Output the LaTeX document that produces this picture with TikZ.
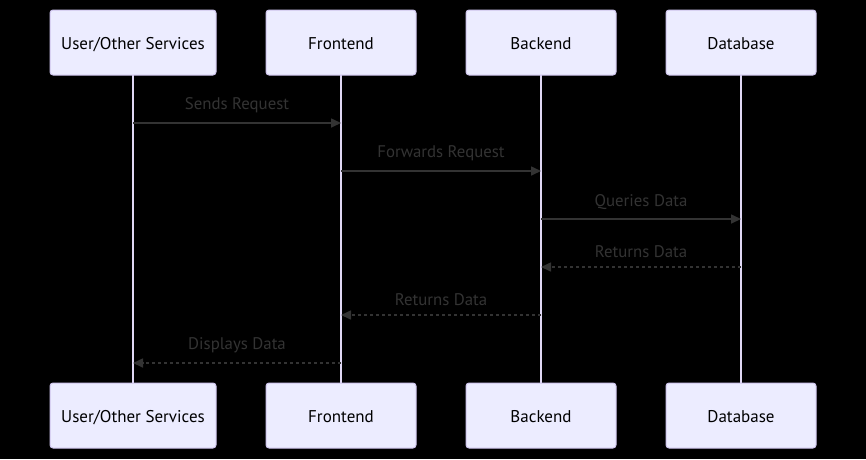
\documentclass[tikz,border=0pt]{standalone}
\usepackage{fontspec}
\setmainfont{PT Sans}
\usetikzlibrary{arrows.meta}
\definecolor{actfill}{RGB}{236,236,255}
\definecolor{actline}{RGB}{206,196,236}
\definecolor{lifel}{RGB}{224,216,245}
\definecolor{msg}{RGB}{51,51,51}
\tikzset{
  actor/.style={draw=actline, line width=1pt, fill=actfill, rounded corners=3pt,
    minimum width=150pt, minimum height=65pt, inner sep=0pt, font=\fontsize{17}{20}\selectfont, text=black,
    text height=14pt, text depth=1pt},
  life/.style={draw=lifel, line width=1.6pt},
  msgsolid/.style={draw=msg, line width=1.6pt, -{Triangle[length=10pt,width=9pt]}},
  msgdot/.style={draw=msg, line width=1.6pt, dash pattern=on 3pt off 3pt, -{Triangle[length=10pt,width=9pt]}},
  lbl/.style={text=msg, font=\fontsize{16.8}{19}\selectfont, inner sep=0pt}
}
\begin{document}
\begin{tikzpicture}[x=1pt,y=-1pt]
\useasboundingbox[fill=black] (0,0) rectangle (866,459);
% lifelines
\foreach \n/\x in {u/133,f/341,b/541,d/741}{
  \coordinate (\n t) at (\x,75);
  \coordinate (\n b) at (\x,383);
  \draw[life] (\n t) -- (\n b);
}
% top actors
\node[actor, minimum width=166pt] (uT) at (133,42.5) {User/Other Services};
\node[actor] (fT) at (341,42.5) {Frontend};
\node[actor] (bT) at (541,42.5) {Backend};
\node[actor] (dT) at (741,42.5) {Database};
% bottom actors
\node[actor, minimum width=166pt] (uB) at (133,415.5) {User/Other Services};
\node[actor] (fB) at (341,415.5) {Frontend};
\node[actor] (bB) at (541,415.5) {Backend};
\node[actor] (dB) at (741,415.5) {Database};
% message anchors
\foreach \n/\x in {u/133,f/341,b/541,d/741}{
  \foreach \i/\y in {1/123,2/171,3/219,4/267,5/315,6/363}{
    \coordinate (\n\i) at (\x,\y);
  }
}
\draw[msgsolid] (u1) -- (f1) node[lbl, midway, above=9pt] (m1) {Sends Request};
\draw[msgsolid] (f2) -- (b2) node[lbl, midway, above=9pt] (m2) {Forwards Request};
\draw[msgsolid] (b3) -- (d3) node[lbl, midway, above=9pt] (m3) {Queries Data};
\draw[msgdot] (d4) -- (b4) node[lbl, midway, above=9pt] (m4) {Returns Data};
\draw[msgdot] (b5) -- (f5) node[lbl, midway, above=9pt] (m5) {Returns Data};
\draw[msgdot] (f6) -- (u6) node[lbl, midway, above=9pt] (m6) {Displays Data};
\end{tikzpicture}
\end{document}
